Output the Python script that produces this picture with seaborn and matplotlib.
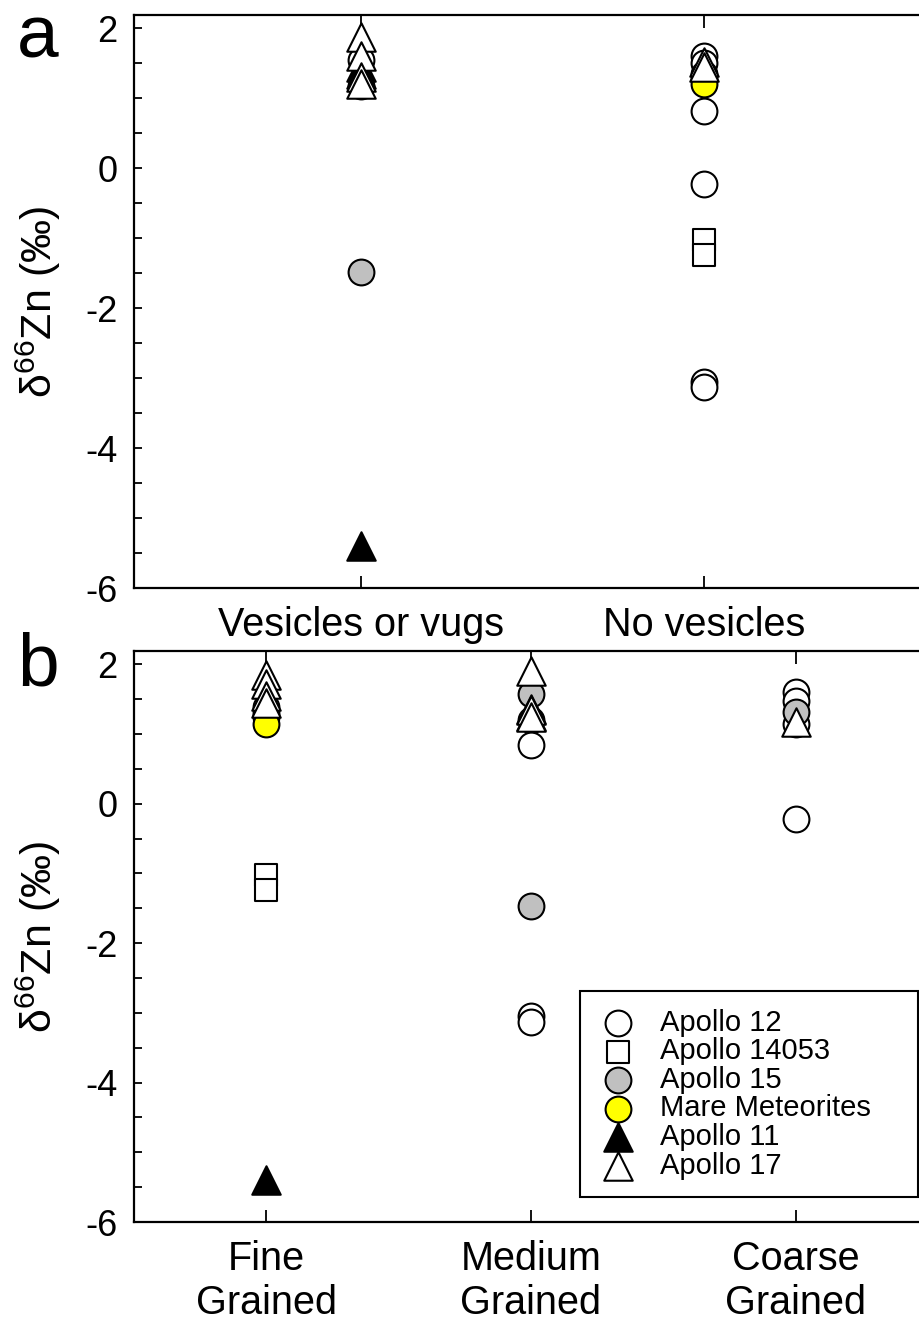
import matplotlib
matplotlib.use("Agg")
import matplotlib.pyplot as plt
import seaborn as sns
import pandas as pd
from matplotlib.ticker import MultipleLocator, FixedLocator

sns.set_theme(style="white")
plt.rcParams['font.family'] = ['Liberation Sans', 'DejaVu Sans']
plt.rcParams['mathtext.fontset'] = 'custom'
plt.rcParams['mathtext.rm'] = 'Liberation Sans'
plt.rcParams['mathtext.it'] = 'Liberation Sans:italic'
for k in ['text.color', 'axes.labelcolor', 'xtick.color', 'ytick.color', 'axes.edgecolor']:
    plt.rcParams[k] = 'black'

# ---------------- data ----------------
vesic_cats = ['Vesicles or vugs', 'No vesicles']
grain_cats = ['Fine\nGrained', 'Medium\nGrained', 'Coarse\nGrained']
series_names = ['Apollo 12', 'Apollo 14053', 'Apollo 15', 'Mare Meteorites', 'Apollo 11', 'Apollo 17']

# panel a: vesicularity
a_apollo12_cat = ['Vesicles or vugs'] * 2 + ['No vesicles'] * 6
a_apollo12_val = [1.55, 1.18, 1.6, 1.5, 0.82, -0.22, -3.05, -3.13]
a_apollo14053_cat = ['No vesicles'] * 2
a_apollo14053_val = [-1.03, -1.24]
a_apollo15_cat = ['Vesicles or vugs', 'No vesicles']
a_apollo15_val = [-1.48, 1.35]
a_mare_cat = ['No vesicles'] * 2
a_mare_val = [1.28, 1.2]
a_apollo11_cat = ['Vesicles or vugs'] * 3
a_apollo11_val = [1.45, 1.35, -5.4]
a_apollo17_cat = ['Vesicles or vugs'] * 4 + ['No vesicles'] * 2
a_apollo17_val = [1.88, 1.6, 1.3, 1.2, 1.52, 1.45]

# panel b: grain size
b_apollo12_cat = ['Fine\nGrained'] * 2 + ['Medium\nGrained'] * 4 + ['Coarse\nGrained'] * 4
b_apollo12_val = [1.38, 1.3, 1.2, 0.84, -3.05, -3.13, 1.6, 1.47, 1.15, -0.22]
b_apollo14053_cat = ['Fine\nGrained'] * 2
b_apollo14053_val = [-1.03, -1.24]
b_apollo15_cat = ['Medium\nGrained'] * 2 + ['Coarse\nGrained']
b_apollo15_val = [1.58, -1.47, 1.32]
b_mare_cat = ['Fine\nGrained'] * 2
b_mare_val = [1.24, 1.15]
b_apollo11_cat = ['Fine\nGrained', 'Medium\nGrained', 'Medium\nGrained']
b_apollo11_val = [-5.4, 1.36, 1.26]
b_apollo17_cat = ['Fine\nGrained'] * 4 + ['Medium\nGrained'] * 3 + ['Coarse\nGrained']
b_apollo17_val = [1.85, 1.72, 1.55, 1.45, 1.9, 1.35, 1.25, 1.17]

# ---------------- styles ----------------
styles = {
    'Apollo 12':       dict(marker='o', color='white',   s=345),
    'Apollo 14053':    dict(marker='s', color='white',   s=270),
    'Apollo 15':       dict(marker='o', color='#c0c0c0', s=345),
    'Mare Meteorites': dict(marker='o', color='#ffff00', s=345),
    'Apollo 11':       dict(marker='^', color='black',   s=420),
    'Apollo 17':       dict(marker='^', color='white',   s=420),
}

panel_a = {
    'Apollo 12': (a_apollo12_cat, a_apollo12_val),
    'Apollo 14053': (a_apollo14053_cat, a_apollo14053_val),
    'Apollo 15': (a_apollo15_cat, a_apollo15_val),
    'Mare Meteorites': (a_mare_cat, a_mare_val),
    'Apollo 11': (a_apollo11_cat, a_apollo11_val),
    'Apollo 17': (a_apollo17_cat, a_apollo17_val),
}
panel_b = {
    'Apollo 12': (b_apollo12_cat, b_apollo12_val),
    'Apollo 14053': (b_apollo14053_cat, b_apollo14053_val),
    'Apollo 15': (b_apollo15_cat, b_apollo15_val),
    'Mare Meteorites': (b_mare_cat, b_mare_val),
    'Apollo 11': (b_apollo11_cat, b_apollo11_val),
    'Apollo 17': (b_apollo17_cat, b_apollo17_val),
}

W, H = 920, 1324
fig = plt.figure(figsize=(W / 100, H / 100), dpi=100)
fig.patch.set_facecolor('white')

def px_axes(left, top, right, bottom):
    return fig.add_axes([left / W, 1 - bottom / H, (right - left) / W, (bottom - top) / H])

ax_a = px_axes(134, 15, 928, 588)
ax_b = px_axes(134, 651, 928, 1222)

def draw(ax, panel, cats, xlim, letter, letter_base):
    for name in series_names:
        cat, val = panel[name]
        df = pd.DataFrame({'x': [cats.index(c) for c in cat], 'y': val})
        st = styles[name]
        sns.scatterplot(data=df, x='x', y='y', ax=ax, marker=st['marker'],
                        color=st['color'], s=st['s'], edgecolor='black',
                        linewidth=1.5, label=name, zorder=3, legend=False)
    ax.set_xlim(*xlim)
    ax.set_ylim(-6, 2.19)
    ax.set_facecolor('white')
    ax.xaxis.set_major_locator(FixedLocator(range(len(cats))))
    ax.set_xticklabels(cats, fontsize=28.5, linespacing=1.2)
    ax.yaxis.set_major_locator(MultipleLocator(2))
    ax.yaxis.set_minor_locator(MultipleLocator(0.5))
    ax.yaxis.set_major_formatter(plt.FuncFormatter(lambda v, p: f'{v:g}'))
    ax.tick_params(axis='y', which='both', direction='in', left=True, right=True,
                   length=6, width=1.3, labelsize=26, pad=12)
    ax.tick_params(axis='x', which='major', direction='in', bottom=True, top=True,
                   length=9, width=1.3, pad=13)
    for sp in ax.spines.values():
        sp.set_color('black')
        sp.set_linewidth(1.6)
    ax.set_xlabel('')
    ax.set_ylabel('δ$^{66}$Zn (‰)', fontsize=31)
    ax.yaxis.set_label_coords(-0.09, 0.5)
    fig.text(17 / W, 1 - letter_base / H, letter, fontsize=54, ha='left', va='baseline')

draw(ax_a, panel_a, vesic_cats, (-0.663, 1.654), 'a', 58)
draw(ax_b, panel_b, grain_cats, (-0.5, 2.5), 'b', 685)

leg = ax_b.legend(loc='lower left',
                  bbox_to_anchor=((580 - 134) / 794, (1222 - 1197) / 571, 338 / 794, 0.3),
                  mode='expand', fontsize=21, frameon=True, fancybox=False,
                  labelspacing=0.02, handletextpad=0.73, borderpad=0.6,
                  borderaxespad=0, handlelength=1.4, scatterpoints=1)
leg.get_frame().set_edgecolor('black')
leg.get_frame().set_linewidth(1.5)
leg.get_frame().set_alpha(1)

fig.savefig('out.png', dpi=100, facecolor='white')
